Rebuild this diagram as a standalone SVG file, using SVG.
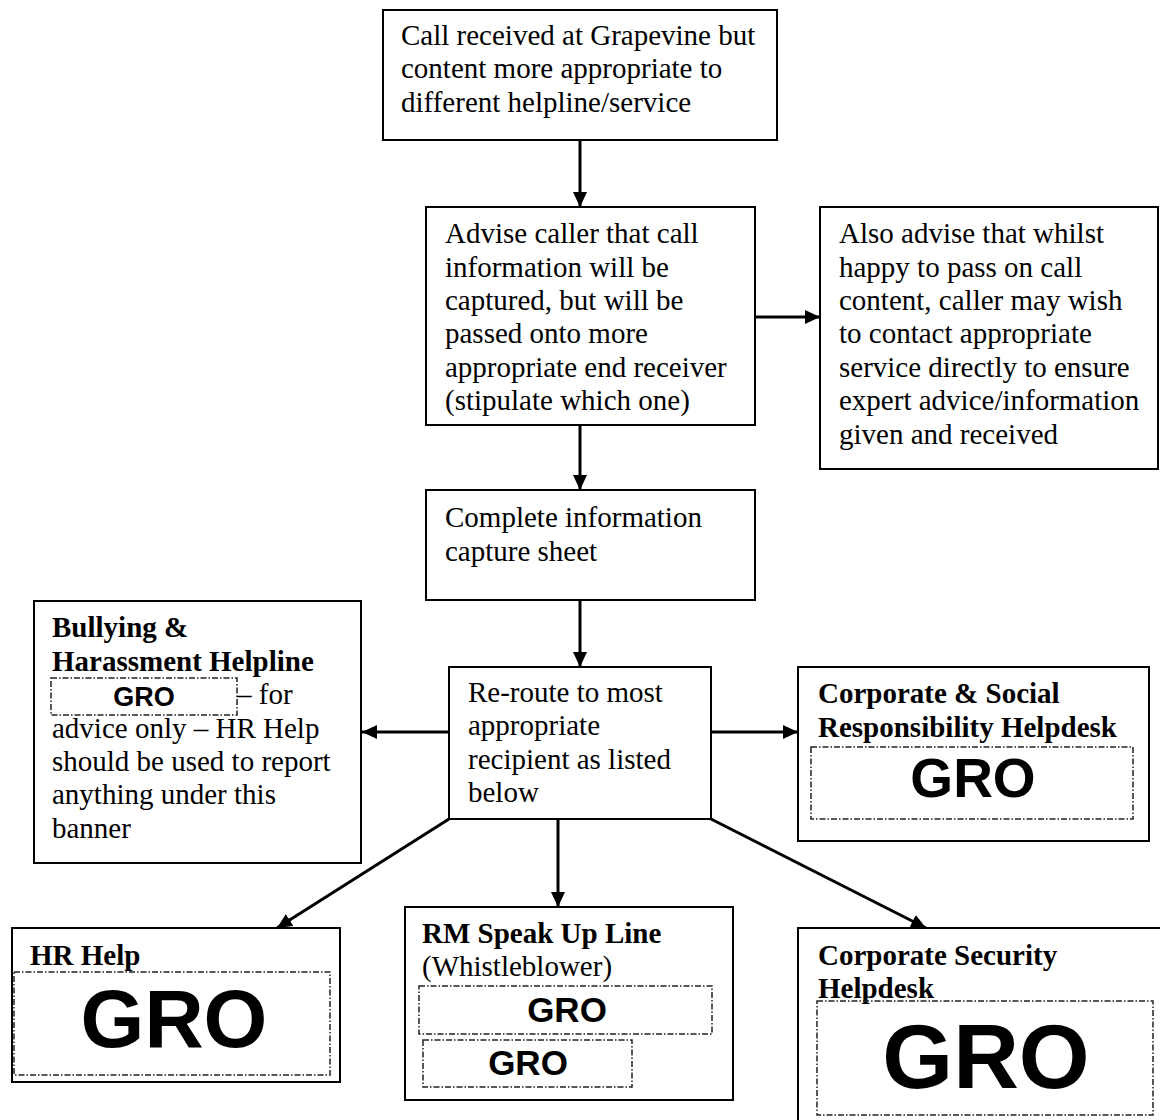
<svg xmlns="http://www.w3.org/2000/svg" width="1160" height="1120" viewBox="0 0 1160 1120">
<style>
.box{fill:#fff;stroke:#000;stroke-width:2}
.gro{fill:none;stroke:#222;stroke-width:1.5;stroke-dasharray:6 2 1.5 2}
.t{font-family:"Liberation Serif","Times New Roman",serif;font-size:29px;fill:#000}
.b{font-weight:bold}
.g{font-family:"Liberation Sans",Arial,sans-serif;font-weight:bold;fill:#000;text-anchor:middle}
.c{stroke:#000;stroke-width:3;fill:none;marker-end:url(#ah)}
</style>
<defs>
<marker id="ah" markerUnits="userSpaceOnUse" markerWidth="16" markerHeight="14" refX="15" refY="7" orient="auto">
<path d="M0,0 L15,7 L0,14 Z" fill="#000"/>
</marker>
</defs>
<rect width="1160" height="1120" fill="#fff"/>
<g id="connectors">
<line class="c" x1="580" y1="140" x2="580" y2="207"/>
<line class="c" x1="755" y1="317" x2="820" y2="317"/>
<line class="c" x1="580" y1="425" x2="580" y2="490"/>
<line class="c" x1="580" y1="600" x2="580" y2="667"/>
<line class="c" x1="449" y1="732" x2="362" y2="732"/>
<line class="c" x1="711" y1="732" x2="798" y2="732"/>
<line class="c" x1="449" y1="819" x2="277" y2="928"/>
<line class="c" x1="558" y1="819" x2="558" y2="907"/>
<line class="c" x1="711" y1="819" x2="926" y2="928"/>
</g>
<g id="call-received">
<rect class="box" x="383" y="10" width="394" height="130"/>
<text class="t" x="401" y="45">Call received at Grapevine but</text>
<text class="t" x="401" y="78">content more appropriate to</text>
<text class="t" x="401" y="112">different helpline/service</text>
</g>
<g id="advise-caller">
<rect class="box" x="426" y="207" width="329" height="218"/>
<text class="t" x="445" y="243">Advise caller that call</text>
<text class="t" x="445" y="277">information will be</text>
<text class="t" x="445" y="310">captured, but will be</text>
<text class="t" x="445" y="343">passed onto more</text>
<text class="t" x="445" y="377">appropriate end receiver</text>
<text class="t" x="445" y="410">(stipulate which one)</text>
</g>
<g id="also-advise">
<rect class="box" x="820" y="207" width="338" height="262"/>
<text class="t" x="839" y="243">Also advise that whilst</text>
<text class="t" x="839" y="277">happy to pass on call</text>
<text class="t" x="839" y="310">content, caller may wish</text>
<text class="t" x="839" y="343">to contact appropriate</text>
<text class="t" x="839" y="377">service directly to ensure</text>
<text class="t" x="839" y="410">expert advice/information</text>
<text class="t" x="839" y="444">given and received</text>
</g>
<g id="capture-sheet">
<rect class="box" x="426" y="490" width="329" height="110"/>
<text class="t" x="445" y="527">Complete information</text>
<text class="t" x="445" y="561">capture sheet</text>
</g>
<g id="re-route">
<rect class="box" x="449" y="667" width="262" height="152"/>
<text class="t" x="468" y="702">Re-route to most</text>
<text class="t" x="468" y="735">appropriate</text>
<text class="t" x="468" y="769">recipient as listed</text>
<text class="t" x="468" y="802">below</text>
</g>
<g id="bullying">
<rect class="box" x="34" y="601" width="327" height="262"/>
<text class="t b" x="52" y="637">Bullying &amp;</text>
<text class="t b" x="52" y="671">Harassment Helpline</text>
<rect class="gro" x="51" y="678" width="186" height="37"/>
<text class="g" x="144" y="706" font-size="27">GRO</text>
<text class="t" x="237" y="704">– for</text>
<text class="t" x="52" y="738">advice only – HR Help</text>
<text class="t" x="52" y="771">should be used to report</text>
<text class="t" x="52" y="804">anything under this</text>
<text class="t" x="52" y="838">banner</text>
</g>
<g id="csr">
<rect class="box" x="798" y="667" width="351" height="174"/>
<text class="t b" x="818" y="703">Corporate &amp; Social</text>
<text class="t b" x="818" y="737">Responsibility Helpdesk</text>
<rect class="gro" x="811" y="747" width="322" height="72"/>
<text class="g" x="973" y="797" font-size="55">GRO</text>
</g>
<g id="hr-help">
<rect class="box" x="12" y="928" width="328" height="154"/>
<text class="t b" x="30" y="965">HR Help</text>
<rect class="gro" x="14" y="972" width="316" height="103"/>
<text class="g" x="174" y="1047" font-size="82">GRO</text>
</g>
<g id="rm-speak-up">
<rect class="box" x="405" y="907" width="328" height="193"/>
<text class="t b" x="422" y="943">RM Speak Up Line</text>
<text class="t" x="422" y="976">(Whistleblower)</text>
<rect class="gro" x="419" y="986" width="293" height="48"/>
<text class="g" x="567" y="1022" font-size="35">GRO</text>
<rect class="gro" x="423" y="1040" width="209" height="47"/>
<text class="g" x="528" y="1075" font-size="35">GRO</text>
</g>
<g id="corporate-security">
<rect class="box" x="798" y="928" width="370" height="200"/>
<text class="t b" x="818" y="965">Corporate Security</text>
<text class="t b" x="818" y="998">Helpdesk</text>
<rect class="gro" x="817" y="1001" width="336" height="114"/>
<text class="g" x="986" y="1088" font-size="91">GRO</text>
</g>
</svg>
